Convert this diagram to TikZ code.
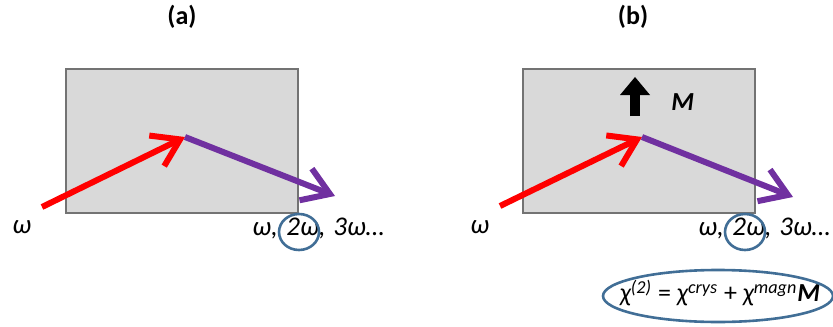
\documentclass[tikz,border=0pt]{standalone}
\usepackage{fontspec}
\setmainfont{Carlito}
\usetikzlibrary{positioning, arrows.meta, shapes.geometric}
\definecolor{rayRed}{RGB}{255, 0, 0}
\definecolor{rayPurple}{RGB}{112, 48, 160}
\definecolor{ringBlue}{RGB}{65, 110, 150}
\definecolor{sampleGray}{RGB}{217, 217, 217}

\begin{document}
\begin{tikzpicture}[
    x=0.5pt, y=-0.5pt,
    sample/.style={rectangle, draw=black!55, fill=sampleGray, line width=0.7pt,
                   minimum width=116pt, minimum height=72pt, inner sep=0pt},
    ray/.style={line width=3pt, -{Straight Barb[length=13pt, width=17pt]}},
    magarrow/.style={line width=5pt, -{Triangle[length=9pt, width=15pt, line width=0pt]}},
    freq/.style={font=\fontsize{13.5}{16}\selectfont\itshape, inner sep=0pt, anchor=base west},
    paneltitle/.style={font=\fontsize{13}{15}\selectfont\bfseries, inner sep=0pt},
    ring/.style={ellipse, draw=ringBlue, line width=1.3pt, inner sep=0pt}
  ]
    \useasboundingbox (0,0) rectangle (833,326);

    % Panel (a): crystal only
    \node[paneltitle] (titleA) at (182,17) {(a)};
    \node[sample] (sampleA) at (182,141) {};
    \coordinate (inA) at (42,207);
    \coordinate (hitA) at (185,137);
    \coordinate (outA) at (335,196);
    \draw[ray, rayRed] (inA) -- (hitA);
    \draw[ray, rayPurple] (hitA) -- (outA);
    \node[freq] (omegaA) at (12,233) {ω};
    \node[freq] (harmA1) at (252,235) {ω,};
    \node[freq] (harmA2) at (286,235) {2ω,};
    \node[freq] (harmA3) at (333,235) {3ω…};
    \node[ring, minimum width=20pt, minimum height=18pt] (ringA) at (299,232) {};

    % Panel (b): with magnetisation M
    \node[paneltitle] (titleB) at (633,17) {(b)};
    \node[sample] (sampleB) at (639,141) {};
    \coordinate (inB) at (500,206);
    \coordinate (hitB) at (642,137);
    \coordinate (outB) at (793,197);
    \draw[ray, rayRed] (inB) -- (hitB);
    \draw[ray, rayPurple] (hitB) -- (outB);
    \coordinate (magBase) at (635,116);
    \coordinate (magTip) at (635,77);
    \draw[magarrow] (magBase) -- (magTip);
    \node[freq, font=\fontsize{13}{15}\selectfont\bfseries\itshape] (magM) at (671,111) {M};
    \node[freq] (omegaB) at (470,233) {ω};
    \node[freq] (harmB1) at (698,235) {ω,};
    \node[freq] (harmB2) at (732,235) {2ω,};
    \node[freq] (harmB3) at (779,235) {3ω…};
    \node[ring, minimum width=20pt, minimum height=18pt] (ringB) at (745,232) {};
    \node[freq, font=\fontsize{13}{15}\selectfont\itshape, anchor=center] (chiB) at (720,293)
      {χ\textsuperscript{(2)} \upshape= \itshape χ\textsuperscript{crys} \upshape+ \itshape χ\textsuperscript{magn}\textbf{M}};
    \node[ring, minimum width=115pt, minimum height=26pt] (chiRing) at (718,296) {};
\end{tikzpicture}
\end{document}
